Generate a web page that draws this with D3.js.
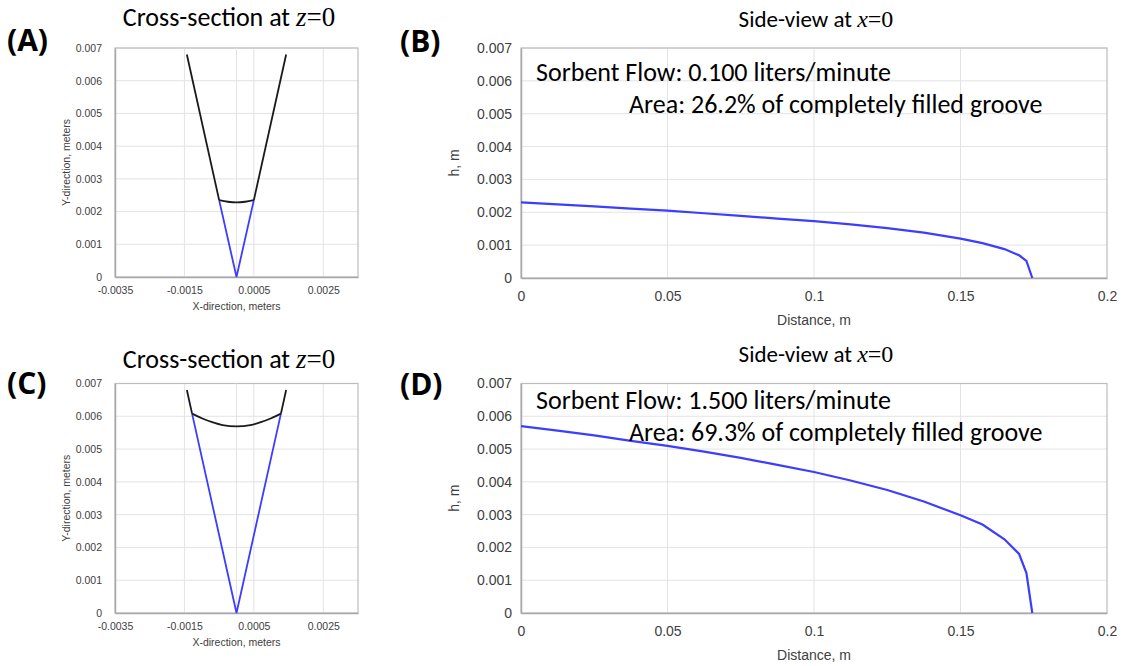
<!DOCTYPE html>
<html><head><meta charset="utf-8">
<script src="https://cdn.jsdelivr.net/npm/d3@7/dist/d3.min.js"></script>
<style>body{margin:0;background:#fff}svg{display:block}</style>
</head><body>
<svg id="chart" width="1130" height="666"></svg>
<script>
// ---------- data ----------
const crossXTicks = [-0.0035, -0.0015, 0.0005, 0.0025];
const crossXTickLabels = ["-0.0035", "-0.0015", "0.0005", "0.0025"];
const hTicks = [0, 0.001, 0.002, 0.003, 0.004, 0.005, 0.006, 0.007];
const hTickLabels = ["0", "0.001", "0.002", "0.003", "0.004", "0.005", "0.006", "0.007"];
const distTicks = [0, 0.05, 0.1, 0.15, 0.2];
const distTickLabels = ["0", "0.05", "0.1", "0.15", "0.2"];

// groove walls (V shape): top-left, apex, top-right
const grooveX = [-0.00143, 0, 0.00143];
const grooveY = [0.0068, 0, 0.0068];

// liquid surface (meniscus) in the cross-sections
const surfaceAx = [-0.0005, -0.00025, 0, 0.00025, 0.0005];
const surfaceAy = [0.00235, 0.00230, 0.00228, 0.00230, 0.00235];
const surfaceCx = [-0.00128, -0.0010, -0.0007, -0.0004, 0, 0.0004, 0.0007, 0.0010, 0.00128];
const surfaceCy = [0.00608, 0.00594, 0.00582, 0.00573, 0.00569, 0.00573, 0.00582, 0.00594, 0.00608];

// side-view profiles
const distance = [0, 0.0125, 0.025, 0.0375, 0.05, 0.0625, 0.075, 0.0875, 0.1, 0.1125, 0.125, 0.1375, 0.15, 0.1575, 0.165, 0.17, 0.1725, 0.1745];
const heightB = [0.00230, 0.00224, 0.00218, 0.00211, 0.00205, 0.00197, 0.00189, 0.00181, 0.00173, 0.00163, 0.00152, 0.00138, 0.00120, 0.00106, 0.00088, 0.00069, 0.00052, 0];
const heightD = [0.00570, 0.00556, 0.00542, 0.00525, 0.00510, 0.00492, 0.00473, 0.00452, 0.00430, 0.00404, 0.00375, 0.00340, 0.00298, 0.00270, 0.00225, 0.00180, 0.00122, 0];

const panelLabels = ["(A)", "(B)", "(C)", "(D)"];
const flowTexts = ["Sorbent Flow: 0.100 liters/minute", "Sorbent Flow: 1.500 liters/minute"];
const areaTexts = ["Area: 26.2% of completely filled groove", "Area: 69.3% of completely filled groove"];

// ---------- drawing ----------
const svg = d3.select("#chart");
const titleFont = "Carlito, Lato, 'Open Sans', sans-serif";
const axisFont = "'Liberation Sans', Arial, sans-serif";
const serif = "'Liberation Serif', 'Times New Roman', serif";
const BLUE = "#3d3dff";

function frame(g, x, y, o) {
  const [x0, x1] = x.range(), [y0, y1] = y.range();
  g.append("g").selectAll("line").data(o.yTicks.filter(t => t > 0)).join("line")
    .attr("x1", x0).attr("x2", x1).attr("y1", d => y(d)).attr("y2", d => y(d))
    .attr("stroke", "#e3e3e3").attr("stroke-width", 1);
  g.append("g").selectAll("line").data(o.xTicks.filter(t => x(t) > x0 + 1 && x(t) < x1 - 1)).join("line")
    .attr("x1", d => x(d)).attr("x2", d => x(d)).attr("y1", y0).attr("y2", y1)
    .attr("stroke", "#e3e3e3").attr("stroke-width", 1);
  g.append("rect").attr("x", x0).attr("y", y1).attr("width", x1 - x0).attr("height", y0 - y1)
    .attr("fill", "none").attr("stroke", "#bdbdbd").attr("stroke-width", 1.2);
  const xa = d3.axisBottom(x).tickValues(o.xTicks).tickFormat((d, i) => o.xLabels[i]).tickSize(0).tickPadding(o.xPad);
  const ya = d3.axisLeft(y).tickValues(o.yTicks).tickFormat((d, i) => o.yLabels[i]).tickSize(0).tickPadding(o.yPad);
  const gx = g.append("g").attr("transform", `translate(0,${y0})`).call(xa);
  const gy = g.append("g").attr("transform", `translate(${x0},0)`).call(ya);
  [gx, gy].forEach(a => {
    a.select(".domain").attr("stroke", "#a8a8a8").attr("stroke-width", 1.5);
    a.selectAll("text").attr("font-family", axisFont).attr("font-size", o.fs).attr("fill", "#404040");
  });
  g.append("text").attr("x", (x0 + x1) / 2).attr("y", y0 + o.xTitleDy).attr("text-anchor", "middle")
    .attr("font-family", axisFont).attr("font-size", o.fs).attr("fill", "#404040").text(o.xTitle);
  g.append("text").attr("transform", `translate(${o.yTitleX},${(y0 + y1) / 2}) rotate(-90)`).attr("text-anchor", "middle")
    .attr("font-family", axisFont).attr("font-size", o.fs).attr("fill", "#404040").text(o.yTitle);
}

function title(x, y, pre, v, fs) {
  const t = svg.append("text").attr("x", x).attr("y", y).attr("text-anchor", "middle").attr("font-size", fs).attr("fill", "#000");
  t.append("tspan").attr("font-family", titleFont).text(pre);
  t.append("tspan").attr("font-family", serif).attr("font-style", "italic").attr("font-size", fs + 1).text(v);
  t.append("tspan").attr("font-family", serif).attr("font-size", fs + 1).text("=0");
}

function panelLabel(x, y, s) {
  svg.append("text").attr("x", x).attr("y", y).attr("font-family", "'Open Sans', Carlito, Lato, sans-serif")
    .attr("font-weight", "bold").attr("font-size", 30).attr("fill", "#000").text(s);
}

function crossPanel(top, bottom, sx, sy) {
  const x = d3.scaleLinear().domain([-0.0035, 0.0035]).range([115, 358]);
  const y = d3.scaleLinear().domain([0, 0.007]).range([bottom, top]);
  const g = svg.append("g");
  frame(g, x, y, {xTicks: crossXTicks, xLabels: crossXTickLabels, yTicks: hTicks, yLabels: hTickLabels,
    fs: 10.5, xTitle: "X-direction, meters", yTitle: "Y-direction, meters", yTitleX: 70, xTitleDy: 33, xPad: 10, yPad: 13});
  g.append("line").attr("x1", x(0)).attr("x2", x(0)).attr("y1", bottom).attr("y2", top).attr("stroke", "#e3e3e3");
  const line = d3.line().x(d => x(d[0])).y(d => y(d[1]));
  const n = sx.length - 1;
  const blue = [[sx[0], sy[0]], [grooveX[1], grooveY[1]], [sx[n], sy[n]]];
  const blackL = [[grooveX[0], grooveY[0]], [sx[0], sy[0]]];
  const blackR = [[sx[n], sy[n]], [grooveX[2], grooveY[2]]];
  const surf = sx.map((v, i) => [v, sy[i]]);
  g.append("path").attr("d", line(blue)).attr("fill", "none").attr("stroke", BLUE).attr("stroke-width", 1.8);
  [blackL, blackR].forEach(p => g.append("path").attr("d", line(p)).attr("fill", "none").attr("stroke", "#1a1a1a").attr("stroke-width", 1.8));
  g.append("path").attr("d", d3.line().curve(d3.curveMonotoneX).x(d => x(d[0])).y(d => y(d[1]))(surf))
    .attr("fill", "none").attr("stroke", "#1a1a1a").attr("stroke-width", 1.8);
}

function sidePanel(top, bottom, h, flow, area, flowY, areaY) {
  const x = d3.scaleLinear().domain([0, 0.2]).range([521, 1107]);
  const y = d3.scaleLinear().domain([0, 0.007]).range([bottom, top]);
  const g = svg.append("g");
  frame(g, x, y, {xTicks: distTicks, xLabels: distTickLabels, yTicks: hTicks, yLabels: hTickLabels,
    fs: 14, xTitle: "Distance, m", yTitle: "h, m", yTitleX: 459, xTitleDy: 47, xPad: 13, yPad: 9});
  g.append("path").attr("d", d3.line().x((d, i) => x(distance[i])).y(d => y(d))(h))
    .attr("fill", "none").attr("stroke", BLUE).attr("stroke-width", 2.2);
  g.append("text").attr("x", 536).attr("y", flowY).attr("font-family", titleFont).attr("font-size", 26).attr("fill", "#000").text(flow);
  g.append("text").attr("x", 629).attr("y", areaY).attr("font-family", titleFont).attr("font-size", 26).attr("fill", "#000").text(area);
}

crossPanel(48, 277, surfaceAx, surfaceAy);
crossPanel(383.5, 613, surfaceCx, surfaceCy);
sidePanel(48, 278, heightB, flowTexts[0], areaTexts[0], 81, 113);
sidePanel(383.5, 613, heightD, flowTexts[1], areaTexts[1], 409, 441);

title(229, 26, "Cross-section at ", "z", 26);
title(229, 368, "Cross-section at ", "z", 26);
title(816, 27, "Side-view at ", "x", 23);
title(816, 362, "Side-view at ", "x", 23);

panelLabel(7, 51, panelLabels[0]);
panelLabel(400, 52, panelLabels[1]);
panelLabel(7, 394, panelLabels[2]);
panelLabel(400, 395, panelLabels[3]);
</script>
</body></html>
